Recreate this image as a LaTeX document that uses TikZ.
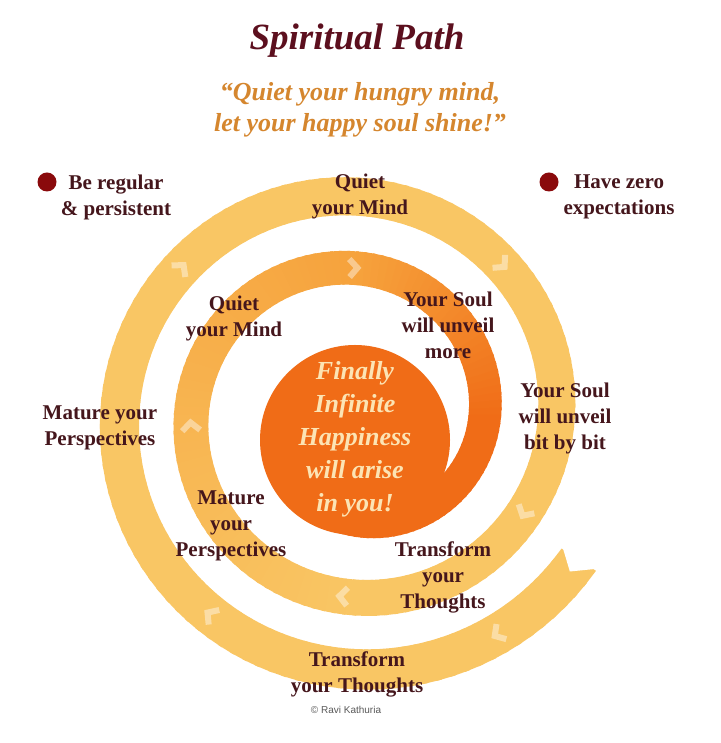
\documentclass[tikz,border=0pt]{standalone}
\usepackage{fontspec}
\setmainfont{Liberation Serif}
\setsansfont{Liberation Sans}
\usepackage{xcolor}
\usepackage{tikz}

\definecolor{bandlight}{HTML}{F9C664}
\definecolor{bandmid}{HTML}{F6A23C}
\definecolor{banddeep}{HTML}{F06C17}
\definecolor{labeltext}{HTML}{45161C}
\definecolor{titlered}{HTML}{5C0F1E}
\definecolor{quoteorange}{HTML}{D5862E}
\definecolor{bulletred}{HTML}{8A0A0C}
\definecolor{coretext}{HTML}{FCE4B4}

\begin{document}
\begin{tikzpicture}[x=1pt,y=1pt,
    declare function={
      sprad(\q)=254.3-0.199*(\q-90)-(\q>720)*0.0006*(\q-720)*(\q-720);
      spwid(\q)=41-0.012*(\q-30);
      spx(\q,\k)=356+(sprad(\q)+\k*spwid(\q)/2)*cos(\q);
      spy(\q,\k)=328-(sprad(\q)+\k*spwid(\q)/2)*sin(\q);
    },
    steplbl/.style={font=\fontsize{21}{26}\selectfont\bfseries,
      text=labeltext, align=center, inner sep=0pt},
    bullet/.style={circle, fill=bulletred, minimum size=19pt, inner sep=0pt},
    chev/.style={white, opacity=0.42, line width=6pt, line join=miter}]
    \useasboundingbox (0,0) rectangle (720,743);
    \fill[white] (0,0) rectangle (720,743);
    % Spiral band, light outside to deep orange inside
    \foreach \t in {33,36,...,834} {
        \pgfmathsetmacro{\pa}{min(max((\t-450)/1.8,0),100)}
        \pgfmathsetmacro{\pb}{min(max((\t-630)/0.9,0),100)}
        \colorlet{segbase}{bandmid!\pa!bandlight}
        \colorlet{segc}{banddeep!\pb!segbase}
        \fill[segc] ({spx(\t,1)},{spy(\t,1)}) -- ({spx(\t+4,1)},{spy(\t+4,1)})
              -- ({spx(\t+4,-1)},{spy(\t+4,-1)}) -- ({spx(\t,-1)},{spy(\t,-1)}) -- cycle;
    }
    % Notched tail
    \fill[white] ({spx(32,1.15)},{spy(32,1.15)}) -- ({spx(36.2,0)},{spy(36.2,0)})
          -- ({spx(32,-1.15)},{spy(32,-1.15)}) -- cycle;
    % Core
    \fill[banddeep] (355,303) circle (95);
    % Chevrons
    \foreach \t in {57,126,220,314,390,454,536,629}
        \draw[chev, shift={({spx(\t,0)},{spy(\t,0)})}, rotate={-\t-90}]
              (-4,-9) -- (4,0) -- (-4,9);
    % Title and quote
    \node[font=\fontsize{37}{44}\selectfont\bfseries\itshape, text=titlered, anchor=base]
          (title) at (357,693) {Spiritual Path};
    \node[font=\fontsize{26}{31}\selectfont\bfseries\itshape, text=quoteorange, align=center]
          (quote) at (360,633) {“Quiet your hungry mind,\\let your happy soul shine!”};
    % Bullets
    \node[bullet] (dotreg) at (47,561) {};
    \node[steplbl] (regular) at (116,546) {Be regular\\\& persistent};
    \node[bullet] (dotzero) at (549,561) {};
    \node[steplbl] (zero) at (619,546) {Have zero\\expectations};
    % Steps on the band
    \node[steplbl] (mindout) at (360,547) {Quiet\\your Mind};
    \node[steplbl] (mindin) at (234,425) {Quiet\\your Mind};
    \node[steplbl] (soulin) at (448,418) {Your Soul\\will unveil\\more};
    \node[steplbl] (soulout) at (565,325) {Your Soul\\will unveil\\bit by bit};
    \node[steplbl] (matout) at (100,315) {Mature your\\Perspectives};
    \node[steplbl] (matin) at (231,217) {Mature\\your\\Perspectives};
    \node[steplbl] (thoughtin) at (443,166) {Transform\\your\\Thoughts};
    \node[steplbl] (thoughtout) at (357,69) {Transform\\your Thoughts};
    % Centre text
    \node[font=\fontsize{26}{33}\selectfont\bfseries\itshape, text=coretext, align=center]
          (happy) at (355,304) {Finally\\Infinite\\Happiness\\will arise\\in you!};
    \node[font=\fontsize{10}{12}\sffamily, text=black!65] (credit) at (346,33) {© Ravi Kathuria};
\end{tikzpicture}
\end{document}
